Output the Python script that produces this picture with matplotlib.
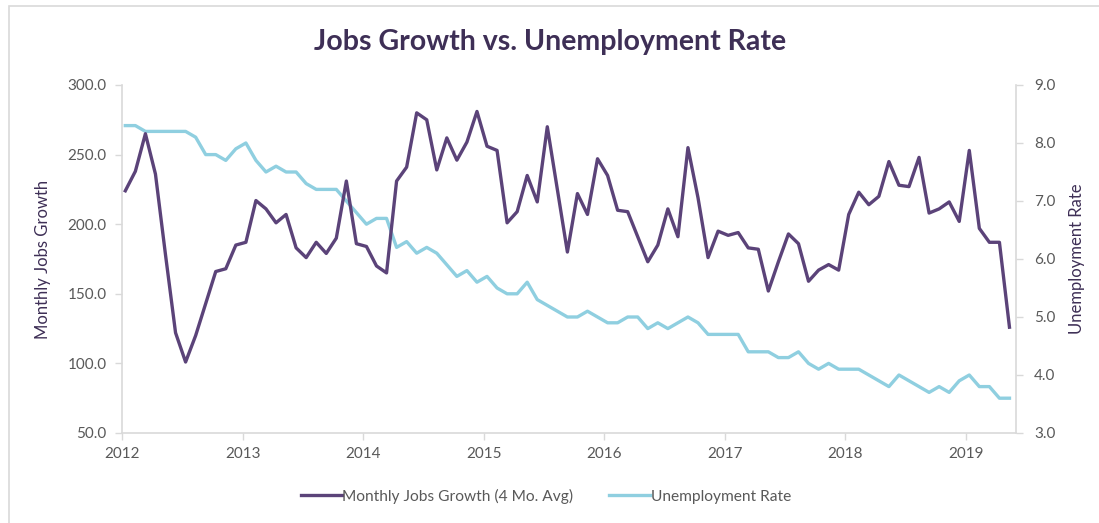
import numpy as np
import matplotlib
matplotlib.use("Agg")
import matplotlib.pyplot as plt
from matplotlib.patches import Rectangle

plt.rcParams['font.family'] = ['Lato', 'DejaVu Sans']

# ---- data (monthly, Jan 2012 .. May 2019) ----
jobs_growth = [224, 238, 265, 236, 178, 122, 101, 120, 143, 166, 168, 185,
               187, 217, 211, 201, 207, 183, 176, 187, 179, 190, 231, 186,
               184, 170, 165, 231, 241, 280, 275, 239, 262, 246, 259, 281,
               256, 253, 201, 209, 235, 216, 270, 225, 180, 222, 207, 247,
               235, 210, 209, 191, 173, 185, 211, 191, 255, 219, 176, 195,
               192, 194, 183, 182, 152, 173, 193, 186, 159, 167, 171, 167,
               207, 223, 214, 220, 245, 228, 227, 248, 208, 211, 216, 202,
               253, 197, 187, 187, 126]
unemployment = [8.3, 8.3, 8.2, 8.2, 8.2, 8.2, 8.2, 8.1, 7.8, 7.8, 7.7, 7.9,
                8.0, 7.7, 7.5, 7.6, 7.5, 7.5, 7.3, 7.2, 7.2, 7.2, 7.0, 6.8,
                6.6, 6.7, 6.7, 6.2, 6.3, 6.1, 6.2, 6.1, 5.9, 5.7, 5.8, 5.6,
                5.7, 5.5, 5.4, 5.4, 5.6, 5.3, 5.2, 5.1, 5.0, 5.0, 5.1, 5.0,
                4.9, 4.9, 5.0, 5.0, 4.8, 4.9, 4.8, 4.9, 5.0, 4.9, 4.7, 4.7,
                4.7, 4.7, 4.4, 4.4, 4.4, 4.3, 4.3, 4.4, 4.2, 4.1, 4.2, 4.1,
                4.1, 4.1, 4.0, 3.9, 3.8, 4.0, 3.9, 3.8, 3.7, 3.8, 3.7, 3.9,
                4.0, 3.8, 3.8, 3.6, 3.6]
start_year = 2012
year_ticks = [2012, 2013, 2014, 2015, 2016, 2017, 2018, 2019]
left_ticks = [50, 100, 150, 200, 250, 300]
right_ticks = [3.0, 4.0, 5.0, 6.0, 7.0, 8.0, 9.0]

months = np.arange(len(jobs_growth))
x = start_year + (months + 0.33) / 12.0

PURPLE = '#5b4379'
CYAN = '#8fcfe0'
DARK = '#3e2f56'
GRID = '#d9d9d9'
TICKC = '#595959'

W, H = 1099, 523
fig = plt.figure(figsize=(W / 100, H / 100), dpi=100)

# outer chart border
fig.patches.append(Rectangle((9 / W, -0.1), 1.2, 1 - 6 / H + 0.1,
                             transform=fig.transFigure, fill=False,
                             edgecolor=GRID, linewidth=1.2, zorder=0))

ax = fig.add_axes([122 / W, 1 - 433 / H, (1016 - 122) / W, (433 - 85) / H])
ax2 = ax.twinx()

l1, = ax.plot(x, jobs_growth, color=PURPLE, lw=2.4, zorder=3,
              label='Monthly Jobs Growth (4 Mo. Avg)')
l2, = ax2.plot(x, unemployment, color=CYAN, lw=2.4, zorder=2,
               label='Unemployment Rate')
ax.set_zorder(ax2.get_zorder() + 1)
ax.patch.set_visible(False)

ax.set_xlim(2012, 2019.415)
ax.set_ylim(50, 300)
ax2.set_ylim(3.0, 9.0)

ax.set_xticks(year_ticks)
ax.set_xticklabels([str(y) for y in year_ticks])
ax.set_yticks(left_ticks)
ax.set_yticklabels([f'{v:.1f}' for v in left_ticks])
ax2.set_yticks(right_ticks)
ax2.set_yticklabels([f'{v:.1f}' for v in right_ticks])

for a in (ax, ax2):
    for s in a.spines.values():
        s.set_visible(False)
    a.tick_params(colors=GRID, labelcolor=TICKC, labelsize=11, length=5, width=1)

ax.spines['left'].set_visible(True)
ax.spines['bottom'].set_visible(True)
ax2.spines['right'].set_visible(True)
for s in (ax.spines['left'], ax.spines['bottom'], ax2.spines['right']):
    s.set_color(GRID)
    s.set_linewidth(1.2)

ax.tick_params(axis='y', pad=6)
ax2.tick_params(axis='y', pad=8)
ax.tick_params(axis='x', pad=5)

ax.set_ylabel('Monthly Jobs Growth', color=DARK, fontsize=12, labelpad=12)
ax2.set_ylabel('Unemployment Rate', color=DARK, fontsize=12, labelpad=10)

fig.text(550 / W, 1 - 42 / H, 'Jobs Growth vs. Unemployment Rate', ha='center',
         va='center', fontsize=20.5, fontweight='bold', color=DARK)

leg = fig.legend(handles=[l1, l2], loc='center', bbox_to_anchor=(546 / W, 1 - 496 / H),
                 ncol=2, frameon=False, fontsize=11.2, handlelength=2.6,
                 handletextpad=0.05, columnspacing=2.3)
for t in leg.get_texts():
    t.set_color(TICKC)

fig.savefig('out.png', dpi=100, facecolor='white')
